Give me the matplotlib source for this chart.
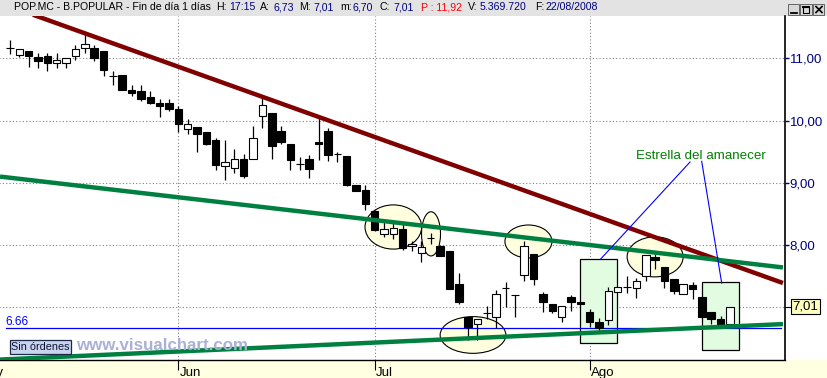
import matplotlib
matplotlib.use('Agg')
import matplotlib.pyplot as plt
from matplotlib.patches import Rectangle, Ellipse
from matplotlib.lines import Line2D
import numpy as np

plt.rcParams['font.family'] = ['Liberation Sans', 'DejaVu Sans']

# daily candles POP.MC, 7 may - 22 aug 2008 (one per trading day)
opens = [11.16, 11.06, 11.12, 11.02, 11.04, 10.92, 10.92, 11.03, 11.16, 11.16,
         11.12, 10.72, 10.73, 10.49, 10.47, 10.38, 10.29, 10.29, 10.18, 9.86,
         9.90, 9.81, 9.68, 9.27, 9.24, 9.38, 9.39, 10.08, 10.12, 9.84,
         9.63, 9.30, 9.39, 9.66, 9.84, 9.47, 9.43, 8.97, 8.89, 8.54,
         8.18, 8.18, 8.25, 7.99, 7.87, 8.11, 7.99, 7.90, 7.38, 6.85,
         6.73, 6.91, 6.85, 7.31, 7.19, 7.52, 7.85, 7.21, 7.06, 6.85,
         7.17, 7.09, 6.93, 6.77, 6.79, 7.24, 7.32, 7.31, 7.51, 7.81,
         7.64, 7.45, 7.22, 7.36, 7.16, 6.93, 6.81, 6.73]
highs = [11.30, 11.15, 11.12, 11.08, 11.08, 11.08, 11.00, 11.22, 11.43, 11.22,
         11.12, 10.80, 10.73, 10.57, 10.57, 10.47, 10.35, 10.35, 10.23, 10.03,
         9.90, 9.81, 9.72, 9.68, 9.54, 9.47, 9.92, 10.39, 10.12, 9.92,
         9.63, 9.42, 9.44, 10.07, 9.88, 9.50, 9.43, 8.97, 8.97, 8.57,
         8.40, 8.38, 8.35, 8.06, 8.06, 8.19, 8.00, 7.90, 7.55, 6.85,
         6.81, 7.02, 7.27, 7.41, 7.19, 8.07, 7.85, 7.24, 7.06, 7.02,
         7.20, 7.09, 6.97, 6.82, 7.33, 7.33, 7.51, 7.47, 7.84, 7.89,
         7.64, 7.45, 7.37, 7.41, 7.16, 6.93, 6.86, 7.01]
lows = [11.07, 11.02, 10.86, 10.85, 10.80, 10.85, 10.85, 10.98, 11.08, 10.96,
        10.71, 10.57, 10.49, 10.39, 10.31, 10.26, 10.06, 10.15, 9.81, 9.79,
        9.50, 9.61, 9.21, 9.05, 9.16, 9.08, 9.39, 9.88, 9.39, 9.63,
        9.20, 9.21, 9.07, 9.37, 9.35, 9.34, 8.95, 8.87, 8.56, 8.22,
        8.13, 8.09, 7.92, 7.91, 7.72, 8.01, 7.83, 7.30, 7.05, 6.48,
        6.48, 6.81, 6.66, 7.01, 6.85, 7.42, 7.35, 6.93, 6.91, 6.77,
        6.94, 7.05, 6.68, 6.59, 6.71, 7.24, 7.23, 7.15, 7.42, 7.62,
        7.31, 7.21, 7.22, 7.13, 6.84, 6.73, 6.68, 6.70]
closes = [11.16, 11.15, 11.03, 10.96, 10.93, 10.98, 11.00, 11.15, 11.23, 11.01,
          10.82, 10.72, 10.49, 10.45, 10.34, 10.28, 10.23, 10.19, 9.94, 9.95,
          9.79, 9.63, 9.29, 9.34, 9.38, 9.11, 9.72, 10.25, 9.59, 9.66,
          9.36, 9.30, 9.22, 9.63, 9.44, 9.47, 8.96, 8.87, 8.66, 8.24,
          8.26, 8.27, 7.95, 8.02, 7.97, 8.11, 7.83, 7.30, 7.09, 6.69,
          6.81, 6.91, 7.22, 7.31, 7.19, 7.99, 7.46, 7.08, 6.94, 7.02,
          7.09, 7.05, 6.77, 6.67, 7.26, 7.33, 7.32, 7.43, 7.84, 7.76,
          7.42, 7.26, 7.37, 7.29, 6.84, 6.81, 6.68, 7.01]

month_pos = [18, 39, 62]
month_labels = ['Jun', 'Jul', 'Ago']
price_ticks = [8, 9, 10, 11]
price_labels = ['8,00', '9,00', '10,00', '11,00']
last_price = 7.01
level_line = 6.66

# trend lines (bar index, price)
red_x, red_y = [2.46, 82.67], [11.70, 7.39]
green_top_x, green_top_y = [-1.07, 82.67], [9.10, 7.64]
green_bot_x, green_bot_y = [-1.07, 82.67], [6.16, 6.73]

W, H = 828, 378
fig = plt.figure(figsize=(W / 100, H / 100), dpi=100)


def fx(x):
    return x / W


def fy(y):
    return 1 - y / H


# header and date band
fig.patches.append(Rectangle((0, fy(16)), 1, 16 / H, transform=fig.transFigure,
                             facecolor='#e3e3e3', edgecolor='none', zorder=-1))
fig.patches.append(Rectangle((0, 0), 1, fy(360), transform=fig.transFigure,
                             facecolor='#ffffe1', edgecolor='none', zorder=-1))

ax = fig.add_axes([0, fy(360), fx(785), fy(16) - fy(360)])
ax.set_xlim(-1.07, 82.89)
ax.set_ylim(6.153, 11.68)
ax.set_facecolor('white')
for s in ['top', 'left']:
    ax.spines[s].set_visible(False)
ax.spines['right'].set_linewidth(1.2)
ax.spines['bottom'].set_linewidth(1.0)

# grid
ax.hlines([7, 8, 9, 10, 11], -1.28, 82.89, colors='#808080',
          linestyles=(0, (1, 2)), lw=0.8, zorder=0.5)
ax.vlines(month_pos, 6.153, 11.68, colors='#808080',
          linestyles=(0, (1, 2)), lw=0.8, zorder=0.5)

# ticks
ax.yaxis.tick_right()
ax.set_yticks(price_ticks)
ax.set_yticklabels(price_labels)
ax.tick_params(axis='y', length=3, width=1, color='#000080', pad=0.5,
               labelcolor='#000080', labelsize=9.5)
ax.set_xticks(month_pos)
ax.set_xticklabels([])
ax.tick_params(axis='x', length=7.5, width=0.8, color='black', direction='out')
for m, lab in zip(month_pos, month_labels):
    ax.text(m + 0.12, -0.047, lab, transform=ax.get_xaxis_transform(),
            fontsize=9.5, va='baseline', ha='left', clip_on=False)
# may label only partly visible at the left edge, as in the original
fig.text(fx(3.5), fy(376), 'May', fontsize=9.5, va='baseline', ha='right')

# ellipses and boxes
ell = [(41.0, 8.29, 6.06, 0.71), (45.03, 8.18, 2.03, 0.71),
       (49.52, 6.555, 7.03, 0.59), (55.45, 8.057, 5.03, 0.53),
       (69.0, 7.81, 5.99, 0.643)]
for cx, cy, w, h in ell:
    ax.add_patch(Ellipse((cx, cy), w, h, facecolor='#ffffe0', edgecolor='black',
                         lw=0.8, zorder=1))
for x0, x1, y0, y1 in [(60.96, 64.95, 6.422, 7.776), (74.04, 78.0, 6.314, 7.40)]:
    ax.add_patch(Rectangle((x0, y0), x1 - x0, y1 - y0, facecolor='#e2fce2',
                           edgecolor='black', lw=0.9, zorder=1))

# level line
ax.plot([-0.43, 82.5], [level_line, level_line], color='#0000ff', lw=0.9, zorder=2)
ax.text(-0.53, 6.716, '6.66', color='#0000ff', fontsize=8.5, va='baseline')

# candles
idx = np.arange(len(opens))
o = np.array(opens)
c = np.array(closes)
ax.vlines(idx, lows, highs, colors='black', lw=0.9, zorder=3)
body_col = ['white' if cc > oo else 'black' for oo, cc in zip(o, c)]
ax.bar(idx, np.abs(c - o), bottom=np.minimum(o, c), width=0.8, color=body_col,
       edgecolor='black', lw=0.8, zorder=3.5)

# trend lines
ax.plot(red_x, red_y, color='#800000', lw=3.2, solid_capstyle='butt', zorder=4)
ax.plot(green_top_x, green_top_y, color='#008040', lw=3.2, solid_capstyle='butt', zorder=4)
ax.plot(green_bot_x, green_bot_y, color='#008040', lw=3.2, solid_capstyle='butt', zorder=4)

# annotation
ax.text(66.95, 9.387, 'Estrella del amanecer', color='#008000', fontsize=9.6,
        va='baseline', zorder=5)
ax.plot([72.73, 63.18], [9.334, 7.776], color='#0000ff', lw=0.8, zorder=5)
ax.plot([73.98, 76.12], [9.345, 7.387], color='#0000ff', lw=0.8, zorder=5)

# last price box
ax.plot([82.89, 83.4], [last_price, last_price], color='black', lw=0.8, clip_on=False)
ax.text(1.0095, last_price, '7,01', transform=ax.get_yaxis_transform(),
        fontsize=9.5, va='center', ha='left', clip_on=False,
        bbox=dict(boxstyle='square,pad=0.12', fc='#ffffc0', ec='black', lw=0.8))

# order box + watermark
fig.patches.append(Rectangle((fx(9.5), fy(354)), fx(61.5), 14.5 / H,
                             transform=fig.transFigure, facecolor='#c8d4ee',
                             edgecolor='#1c2a48', lw=0.9, zorder=5))
fig.text(fx(40.3), fy(347), 'Sin órdenes', fontsize=7.8, color='#101030',
         ha='center', va='center', zorder=6)
fig.text(fx(76), fy(350), 'www.visualchart.com', fontsize=12.2, weight='bold',
         color='#a9b1d4', va='baseline', zorder=6)

# header text
hdr = [(14, 'POP.MC - B.POPULAR - Fin de día 1 días', 'black'),
       (216, 'H:', 'black'), (229, '17:15', '#000080'),
       (260, 'A:', 'black'), (273, '6,73', '#000080'),
       (299, 'M:', 'black'), (313, '7,01', '#000080'),
       (340, 'm:', 'black'), (353, '6,70', '#000080'),
       (380, 'C:', 'black'), (393, '7,01', '#000080'),
       (420.7, 'P : 11,92', '#ff0000'),
       (468.3, 'V:', 'black'), (480, '5.369.720', '#000080'),
       (535, 'F:', 'black'), (545, '22/08/2008', '#000080')]
for x, t, col in hdr:
    fig.text(fx(x), fy(10.3), t, color=col, fontsize=7.6, va='baseline', ha='left')

# window buttons
for bx in [788, 800.5, 813]:
    fig.patches.append(Rectangle((fx(bx), fy(14.5)), fx(11.5), 10.5 / H,
                                 transform=fig.transFigure, facecolor='#d8d8d8',
                                 edgecolor='#505050', lw=0.6, zorder=5))


def pxline(xs, ys, lw=1.0):
    fig.add_artist(Line2D([fx(v) for v in xs], [fy(v) for v in ys],
                          transform=fig.transFigure, color='black', lw=lw, zorder=6))


pxline([791, 797], [12.5, 12.5], 1.3)
pxline([803, 809.5, 809.5, 803, 803], [6.5, 6.5, 12.5, 12.5, 6.5], 0.8)
pxline([803, 809.5], [6.5, 6.5], 1.4)
pxline([816, 822], [6.5, 12.5], 1.2)
pxline([816, 822], [12.5, 6.5], 1.2)

fig.savefig('out.png', dpi=100)
